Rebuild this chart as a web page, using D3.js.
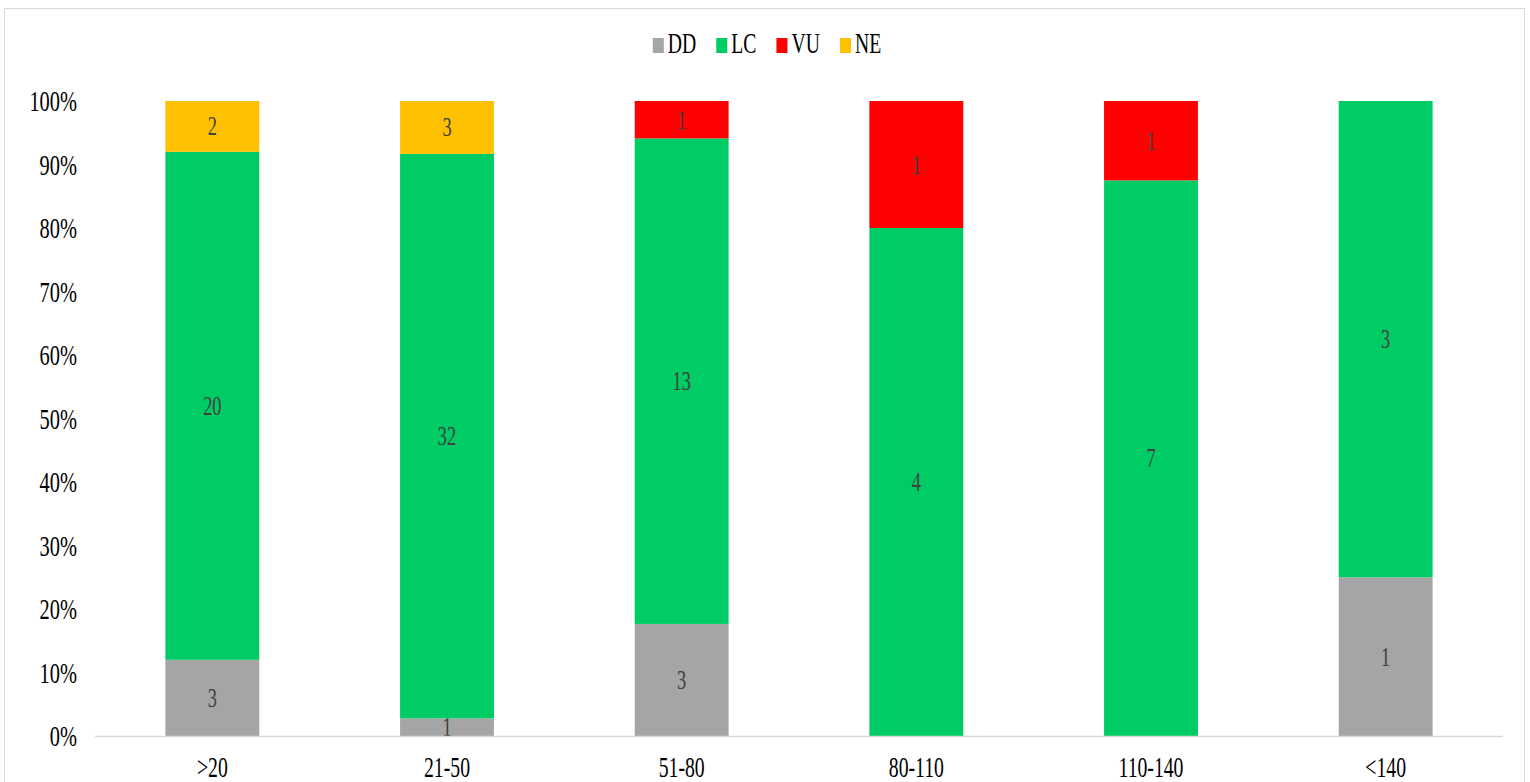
<!DOCTYPE html>
<html>
<head>
<meta charset="utf-8">
<style>
  body { margin: 0; background: #fff; }
  text { font-family: "Liberation Serif", "Times New Roman", serif; }
</style>
</head>
<body>
<svg width="1530" height="782"></svg>
<script src="https://d3js.org/d3.v7.min.js"></script>
<script>

// data
var categories = [">20", "21-50", "51-80", "80-110", "110-140", "<140"];
var seriesNames = ["DD", "LC", "VU", "NE"];
var DD = [3, 1, 3, 0, 0, 1];
var LC = [20, 32, 13, 4, 7, 3];
var VU = [0, 0, 1, 1, 1, 0];
var NE = [2, 3, 0, 0, 0, 0];
var yTicks = [0, 0.1, 0.2, 0.3, 0.4, 0.5, 0.6, 0.7, 0.8, 0.9, 1];

var colors = {DD: "#a5a5a5", LC: "#00cc66", VU: "#ff0000", NE: "#ffc000"};
var squeeze = 0.68;   // text looks narrow in the original

var rows = categories.map(function(c, i) {
  return {cat: c, DD: DD[i], LC: LC[i], VU: VU[i], NE: NE[i]};
});

var svg = d3.select("svg");

// outer frame
svg.append("rect")
    .attr("x", 4.5).attr("y", 8.5)
    .attr("width", 1520).attr("height", 790)
    .attr("fill", "none")
    .attr("stroke", "#d9d9d9");

var x = d3.scaleBand()
    .domain(categories)
    .range([95, 1503])
    .paddingInner(0.6)
    .paddingOuter(0.3);

var y = d3.scaleLinear()
    .domain([0, 1])
    .range([736, 101]);

function label(sel, px, py, anchor, size, fill) {
  return sel.append("text")
      .attr("transform", "translate(" + px + "," + py + ") scale(" + squeeze + ",1)")
      .attr("text-anchor", anchor)
      .attr("font-size", size)
      .attr("fill", fill);
}

var stack = d3.stack().keys(seriesNames).offset(d3.stackOffsetExpand);
var layers = stack(rows);

var g = svg.append("g");

layers.forEach(function(layer) {
  var lg = g.append("g").attr("fill", colors[layer.key]);
  lg.selectAll("rect")
    .data(layer)
    .enter().append("rect")
      .attr("x", function(d) { return x(d.data.cat); })
      .attr("y", function(d) { return y(d[1]); })
      .attr("width", x.bandwidth())
      .attr("height", function(d) { return y(d[0]) - y(d[1]); });
});

// value labels
layers.forEach(function(layer) {
  layer.forEach(function(d) {
    var v = d.data[layer.key];
    if (!v) return;
    var cy = (y(d[0]) + y(d[1])) / 2;
    label(svg, x(d.data.cat) + x.bandwidth() / 2, cy + 9, "middle", 27, "#404040").text(v);
  });
});

// baseline
svg.append("line")
    .attr("x1", 95).attr("x2", 1503)
    .attr("y1", 736.5).attr("y2", 736.5)
    .attr("stroke", "#d9d9d9")
    .attr("stroke-width", 1.5);

// y tick labels
yTicks.forEach(function(t) {
  label(svg, 77, y(t) + 10, "end", 30, "#000").text(d3.format(".0%")(t));
});

// x labels
categories.forEach(function(c) {
  label(svg, x(c) + x.bandwidth() / 2, 777, "middle", 29, "#000").text(c);
});

// legend
var legend = svg.append("g");
var lx = 0;
seriesNames.forEach(function(s, i) {
  legend.append("rect")
      .attr("x", lx).attr("y", 38)
      .attr("width", 11).attr("height", 15)
      .attr("fill", colors[s]);
  var t = label(legend, lx + 15, 53, "start", 29, "#000").text(s);
  lx += 15 + t.node().getComputedTextLength() * squeeze + 20;
});
var lw = lx - 20;
legend.attr("transform", "translate(" + (767 - lw / 2) + ",0)");

</script>
</body>
</html>
